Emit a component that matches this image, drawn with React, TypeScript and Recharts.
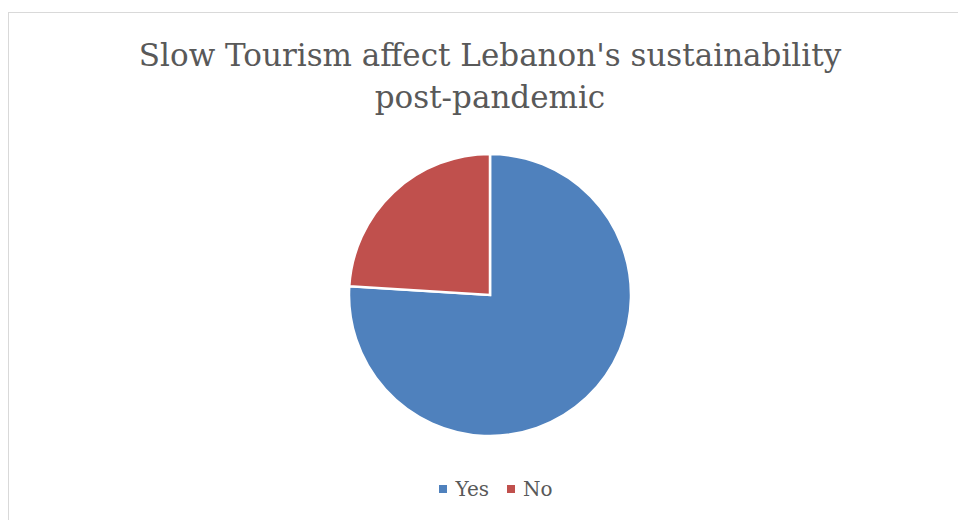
import { Cell, Legend, Pie, PieChart } from "recharts";

const answers = ["Yes", "No"];
const shares = [76, 24];
const sliceColors = ["#4F81BD", "#C0504D"];

const data = answers.map((name, i) => ({ name, value: shares[i] }));

const font = "'DejaVu Serif', Cambria, serif";

// legend keeps the data order (Yes first, then No)
const renderLegend = () => (
  <div
    style={{
      display: "flex",
      justifyContent: "center",
      gap: 18,
      fontFamily: font,
      fontSize: 20,
      color: "#595959",
      paddingLeft: 12,
    }}
  >
    {answers.map((name, i) => (
      <div key={name} style={{ display: "flex", alignItems: "center" }}>
        <span
          style={{
            display: "inline-block",
            width: 8,
            height: 8,
            background: sliceColors[i],
            marginRight: 8,
          }}
        />
        {name}
      </div>
    ))}
  </div>
);

const App = () => {
  return (
    <div
      style={{
        position: "fixed",
        left: 0,
        top: 0,
        width: 958,
        height: 520,
        overflow: "hidden",
        background: "#fff",
      }}
    >
      <div
        style={{
          position: "absolute",
          left: 8,
          top: 12,
          width: 970,
          height: 530,
          border: "1px solid #D9D9D9",
        }}
      />
      <div
        style={{
          position: "absolute",
          left: 0,
          top: 34,
          width: 980,
          textAlign: "center",
          fontFamily: font,
          fontSize: 31,
          lineHeight: "42px",
          color: "#595959",
        }}
      >
        Slow Tourism affect Lebanon's sustainability
        <br />
        post-pandemic
      </div>
      <div style={{ position: "absolute", left: 0, top: 0 }}>
        <PieChart width={958} height={520} margin={{ top: 0, right: 0, bottom: 0, left: 0 }}>
          <Pie
            data={data}
            dataKey="value"
            nameKey="name"
            cx={490}
            cy={295}
            outerRadius={141}
            startAngle={90}
            endAngle={-270}
            stroke="#fff"
            strokeWidth={2.5}
            isAnimationActive={false}
          >
            {data.map((d, i) => (
              <Cell key={d.name} fill={sliceColors[i]} />
            ))}
          </Pie>
          <Legend
            content={renderLegend}
            wrapperStyle={{ position: "absolute", left: 0, top: 477, width: 980 }}
          />
        </PieChart>
      </div>
    </div>
  );
};

export default App;
